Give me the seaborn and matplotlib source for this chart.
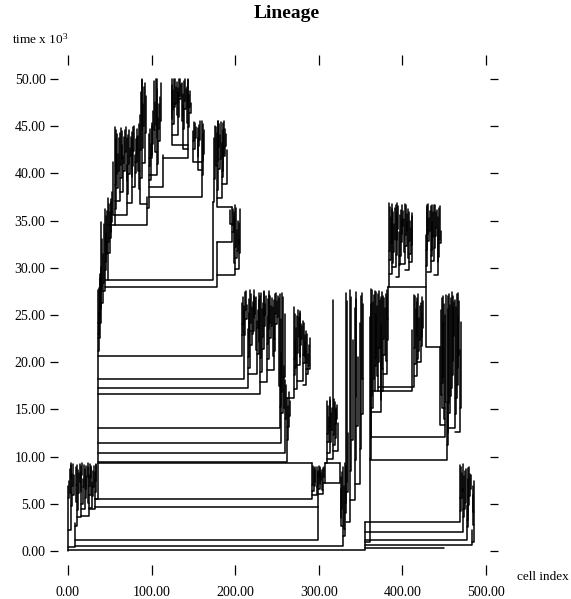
import matplotlib
matplotlib.use("Agg")
import matplotlib.pyplot as plt
import pandas as pd
import seaborn as sns

# Branch records: (cell index, parent cell index, birth time, end time); time in 10^3 units.
# The horizontal stroke at the birth time joins the parent column to the cell column.
founders = [
    (0, 0, 0.0, 6.9), (8, 0, 0.4, 3.0), (355, 0, 0.1, 3.1), (329, 8, 0.5, 8.9),
    (299, 8, 1.2, 4.7), (3, 0, 2.2, 9.1), (11, 8, 2.7, 7.0), (16, 11, 3.6, 9.0),
    (25, 16, 3.7, 8.1), (32.5, 25, 4.4, 8.4), (299, 32.5, 4.7, 8.4),
    (292, 32.5, 5.5, 9.3), (35.5, 32.5, 5.5, 27.6),
]
base_fuzz = [
    (1.5, 0, 5.6, 7.4), (2.2, 3, 6.1, 8.7), (4, 3, 7.6, 9.3), (5, 3, 4.8, 8.2),
    (6.5, 5, 6.9, 9.2), (7.5, 5, 5.9, 8.0), (9.5, 11, 5.2, 8.9), (10.5, 9.5, 7.0, 9.1),
    (12, 11, 4.3, 8.6), (13, 11, 6.1, 8.3), (14.5, 16, 7.3, 9.2), (15.5, 16, 6.2, 8.4),
    (17, 16, 8.0, 9.3), (18, 16, 5.0, 7.6), (19, 18, 6.8, 9.1), (20, 16, 4.5, 8.7),
    (21, 20, 5.6, 7.9), (22, 20, 6.6, 9.0), (23.5, 25, 7.8, 9.3), (24.5, 25, 5.1, 8.9),
    (26, 25, 6.9, 9.2), (27, 25, 5.9, 8.8), (28, 27, 7.7, 9.0), (29, 25, 4.6, 7.3),
    (30, 29, 5.8, 8.5), (31, 29, 6.8, 9.0), (33.2, 32.5, 6.3, 9.1), (34, 32.5, 7.4, 9.2),
]
trunk_branches = [
    (208, 35.5, 20.7, 26.3), (210.5, 35.5, 18.2, 25.4), (215, 35.5, 17.3, 23.5),
    (230, 35.5, 16.6, 27.0), (253.6, 35.5, 13.0, 27.2), (255, 35.5, 11.4, 21.0),
    (260, 35.5, 10.4, 18.1), (262, 35.5, 9.4, 16.2), (292, 35.5, 9.3, 9.3),
]
clade_a = [
    (209.5, 210.5, 23.1, 26.9), (211, 208, 24.0, 26.0), (212, 208, 22.9, 27.4),
    (213, 212, 25.5, 27.5), (214, 212, 24.6, 26.1), (216, 215, 20.6, 26.7),
    (217, 216, 22.5, 25.2), (218, 215, 19.4, 27.6), (219, 218, 24.1, 27.2),
    (220, 218, 21.8, 25.9), (221, 220, 23.0, 26.4), (222, 218, 23.3, 27.7),
    (223, 222, 24.7, 27.0), (224, 222, 25.1, 26.8), (225, 226, 21.3, 26.9),
    (226, 215, 18.8, 24.4), (227, 226, 23.6, 25.5), (228, 226, 20.9, 27.3),
    (229, 228, 22.1, 26.6), (231, 230, 20.4, 27.3), (232, 230, 19.0, 25.6),
    (233, 232, 22.7, 26.3), (234, 232, 21.4, 27.5), (235, 234, 24.9, 27.4),
    (236, 234, 23.8, 26.2), (237, 236, 25.0, 27.0), (238, 230, 17.9, 24.9),
    (239, 238, 21.9, 26.7), (240, 238, 20.3, 27.1), (241, 240, 23.5, 27.5),
    (242, 243, 24.2, 27.0), (243, 240, 22.6, 26.0), (244, 243, 23.8, 26.8),
    (245, 246, 20.7, 25.9), (246, 238, 19.2, 23.7), (247, 248, 22.5, 26.6),
    (248, 246, 21.2, 27.2), (249, 248, 25.1, 27.3), (250, 248, 24.0, 26.5),
    (251, 250, 24.8, 27.0), (252, 253.6, 17.5, 26.8), (254.3, 253.6, 15.3, 24.6),
    (256, 255, 16.8, 27.3), (257, 255, 14.6, 26.9), (258.5, 260, 15.2, 19.6),
    (259, 257, 18.4, 25.1), (261, 260, 14.0, 17.6), (263, 262, 11.8, 15.4),
    (264, 262, 13.1, 16.8), (266, 264, 14.3, 15.9),
]
clade_b = [
    (270, 262, 16.2, 25.8), (271, 270, 20.3, 25.1), (272, 270, 18.6, 22.4),
    (273, 272, 19.4, 23.6), (274, 270, 17.2, 24.9), (275, 274, 21.0, 25.5),
    (276, 277, 22.7, 24.8), (277, 274, 19.7, 25.4), (278, 277, 20.5, 25.2),
    (279, 277, 21.8, 24.0), (280, 279, 22.5, 23.8), (281, 274, 18.0, 24.4),
    (282, 281, 20.8, 24.1), (283, 281, 19.9, 22.1), (284, 283, 20.5, 22.9),
    (285, 281, 17.6, 23.3), (286, 285, 19.9, 23.0), (287, 285, 18.8, 20.9),
    (288, 287, 19.6, 21.8), (289, 285, 19.3, 22.6),
]
clade_d = [
    (293, 292, 7.0, 9.0), (294, 292, 6.4, 8.8), (295, 294, 6.9, 8.9),
    (296, 294, 7.3, 8.6), (297.5, 292, 5.9, 8.9), (298.5, 297.5, 6.8, 8.5),
    (300, 299, 7.8, 9.0), (301, 299, 6.6, 8.7), (302, 301, 7.1, 8.9),
    (303, 301, 7.5, 8.3), (304, 305, 6.5, 8.6), (305, 299, 6.0, 8.8),
    (306, 305, 7.8, 8.9), (307, 305, 7.2, 9.3), (325, 307, 7.2, 9.3),
    (325, 307, 9.3, 9.3),
]
clade_c = [
    (310, 307, 9.3, 15.9), (311, 310, 12.4, 15.4), (312, 310, 11.6, 14.2),
    (313, 312, 13.1, 16.0), (314, 310, 10.4, 16.3), (315, 314, 11.5, 14.6),
    (316, 314, 12.8, 15.1), (317, 310, 9.7, 26.6), (318, 317, 12.3, 16.1),
    (319, 317, 11.2, 15.8), (320, 319, 12.0, 15.2), (321, 319, 13.5, 14.9),
    (322, 321, 14.0, 15.5), (323, 317, 10.6, 13.6),
]
clade_m = [
    (326, 327, 3.5, 6.6), (327, 329, 2.6, 7.8), (328, 327, 4.4, 8.4),
    (330, 331, 2.3, 6.9), (331, 329, 1.6, 9.3), (332, 331, 5.1, 9.0),
    (333, 331, 4.0, 27.3), (334, 333, 7.3, 26.5), (335, 333, 6.2, 12.5),
    (337, 333, 3.1, 27.6), (339, 337, 8.5, 26.9), (341, 339, 11.8, 22.3),
    (343, 337, 5.4, 25.7), (344, 345, 16.3, 26.7), (345, 343, 9.6, 27.4),
    (347, 345, 13.2, 20.6), (349, 343, 7.1, 24.1), (351, 349, 10.8, 27.0),
    (352, 353, 18.2, 27.3), (353, 351, 14.5, 26.2),
]
right_root = [
    (361, 355, 1.0, 24.8), (450, 355, 0.3, 0.3), (469, 355, 3.1, 9.1),
    (473, 355, 2.0, 6.7), (477, 355, 1.2, 4.9), (483, 355, 0.6, 2.2),
    (453, 361, 9.6, 15.8), (451, 363, 12.1, 25.0), (412, 371, 17.0, 23.4),
    (414, 371, 17.4, 27.1),
]
clade_h = [
    (470, 469, 4.2, 8.9), (471, 469, 5.6, 8.3), (472, 471, 6.4, 9.2),
    (474, 473, 3.6, 7.9), (475, 473, 4.4, 8.5), (476, 475, 5.1, 8.7),
    (478, 477, 2.5, 7.6), (479, 477, 3.3, 8.8), (480, 479, 4.9, 8.9),
    (481, 479, 5.8, 8.2), (482, 481, 6.6, 8.0), (484.5, 486, 4.1, 6.9),
    (485, 486, 2.8, 5.9), (486, 483, 1.0, 7.4),
]
clade_e = [
    (362, 363, 12.0, 26.2), (363, 361, 9.8, 27.8), (364, 363, 16.4, 27.6),
    (365, 363, 15.2, 26.4), (366, 365, 18.2, 27.1), (367, 363, 17.0, 27.5),
    (368, 367, 20.4, 27.4), (369, 367, 19.6, 25.1), (370, 371, 18.5, 26.0),
    (371, 367, 17.0, 27.2), (372, 371, 20.0, 27.5), (373, 371, 21.5, 26.6),
    (374, 375, 16.0, 26.9), (375, 363, 14.7, 23.9), (376, 377, 19.3, 27.4),
    (377, 375, 16.9, 27.0), (378, 377, 22.5, 26.8), (379, 377, 20.8, 25.7),
    (380, 381, 20.1, 27.2), (381, 377, 18.7, 26.9), (382, 383, 24.6, 27.7),
    (383, 381, 22.4, 28.0),
]
clade_f = [
    (415, 414, 21.5, 27.0), (416, 414, 19.8, 25.6), (417, 416, 22.8, 26.4),
    (418, 414, 18.5, 26.8), (419, 418, 20.3, 27.2), (420, 418, 21.2, 24.7),
    (421, 420, 22.4, 26.0), (422, 418, 20.0, 26.3), (423, 422, 21.7, 26.9),
    (424, 422, 22.7, 25.2), (425, 424, 23.6, 26.5),
]
clade_g = [
    (445, 451, 13.4, 21.6), (446, 447, 16.5, 25.5), (447, 451, 15.2, 26.8),
    (448, 447, 17.8, 27.0), (449, 447, 18.4, 24.3), (450, 451, 14.0, 26.2),
    (452, 451, 15.8, 27.1), (454, 455, 12.5, 25.6), (455, 453, 11.2, 27.0),
    (456, 455, 15.7, 27.2), (457, 455, 14.6, 26.1), (458, 457, 16.4, 26.8),
    (459, 457, 17.3, 27.4), (460, 459, 18.6, 27.0), (461, 459, 20.1, 25.8),
    (462, 459, 22.8, 26.4), (463, 455, 13.0, 26.6), (464, 463, 14.5, 25.9),
    (465, 463, 16.2, 27.2), (466, 465, 17.6, 27.3), (467, 465, 19.4, 24.9),
    (468, 467, 20.8, 26.5), (469, 463, 12.6, 21.3), (470, 469, 15.1, 24.3),
]
clade_t1 = [
    (384, 383, 28.0, 36.9), (385, 384, 31.8, 36.4), (386, 384, 30.8, 35.4),
    (387, 386, 32.6, 36.8), (388, 384, 29.3, 36.2), (389, 388, 30.5, 35.9),
    (390, 388, 31.7, 34.6), (391, 390, 33.0, 36.3), (392, 388, 30.1, 36.6),
    (393, 392, 31.4, 36.9), (394, 392, 32.9, 35.8), (395, 394, 34.1, 36.5),
    (396, 392, 29.0, 33.8), (397, 396, 30.3, 35.6), (398, 396, 31.2, 36.1),
    (399, 398, 32.7, 36.7), (400, 398, 33.6, 35.1), (401, 400, 34.4, 36.0),
    (402, 403, 31.7, 35.2), (403, 396, 30.4, 36.8), (404, 403, 33.5, 36.6),
    (405, 403, 32.3, 34.9), (406, 405, 33.9, 35.7), (407, 408, 31.0, 36.2),
    (408, 403, 29.8, 35.9), (409, 408, 32.8, 35.0), (410, 408, 31.5, 34.2),
    (411, 410, 32.4, 35.8), (412, 408, 30.6, 35.5),
]
clade_t2 = [
    (428, 445, 21.6, 33.5), (428, 383, 28.0, 28.0), (429, 428, 31.9, 36.4),
    (430, 428, 30.2, 36.7), (431, 430, 33.6, 36.8), (432, 430, 32.8, 35.3),
    (433, 432, 33.9, 36.0), (434, 430, 29.6, 36.5), (435, 434, 31.2, 36.6),
    (436, 434, 31.9, 34.8), (437, 436, 33.3, 35.9), (438, 434, 30.7, 36.6),
    (439, 438, 32.1, 36.7), (440, 438, 33.4, 35.9), (441, 440, 34.2, 36.1),
    (442, 438, 29.2, 34.1), (443, 442, 30.6, 35.4), (444, 442, 31.1, 36.3),
    (445, 444, 32.9, 36.5), (446, 442, 32.6, 33.9),
]
upper_trunk = [
    (36.5, 35.5, 23.0, 27.9), (37, 35.5, 21.2, 25.3), (38, 35.5, 22.6, 28.9),
    (38.5, 38, 24.8, 29.3), (39, 38, 25.6, 30.1), (40, 35.5, 24.1, 34.8),
    (41, 40, 27.8, 33.0), (42, 40, 26.3, 31.5), (43, 42, 28.4, 34.6),
    (44, 40, 27.5, 36.2), (45, 44, 30.6, 35.5), (46, 44, 29.8, 33.7),
    (47, 46, 31.5, 36.0), (48, 44, 28.7, 37.4), (49, 48, 32.7, 36.8),
    (50, 48, 31.6, 35.9), (51, 50, 33.8, 37.3), (52, 48, 33.2, 37.0),
    (53, 52, 34.9, 38.0), (54, 56, 35.6, 41.2), (173, 48, 28.7, 37.0),
    (178, 44, 28.0, 32.7), (56, 48, 34.5, 44.9), (94.5, 56, 34.5, 37.5),
]
clade_tl = [
    (57, 56, 38.8, 44.6), (58, 56, 36.2, 43.6), (59, 58, 39.9, 44.2),
    (60, 58, 38.4, 42.1), (61, 60, 40.2, 43.8), (62, 56, 37.1, 44.3),
    (63, 62, 40.9, 44.8), (64, 62, 39.5, 43.0), (65, 64, 41.5, 44.5),
    (66, 62, 38.0, 41.8), (67, 66, 41.1, 43.9), (68, 66, 40.3, 44.6),
    (69, 68, 42.3, 44.9), (70, 56, 35.6, 40.9), (71, 70, 39.2, 43.7),
    (72, 70, 37.8, 44.1), (73, 72, 41.0, 44.6), (74, 72, 39.9, 42.7),
    (75, 74, 41.8, 43.9), (76, 70, 36.9, 43.5), (77, 76, 39.6, 44.4),
    (78, 76, 40.8, 44.9), (79, 78, 42.4, 45.0), (80, 76, 38.6, 42.0),
    (81, 80, 40.0, 43.6), (82, 80, 41.2, 43.9), (83, 82, 42.0, 44.7),
    (84, 86, 40.2, 44.0), (85, 86, 38.3, 45.2), (86, 94.5, 36.8, 46.2),
    (87, 86, 42.5, 48.6), (88, 86, 39.5, 49.9), (89, 88, 44.6, 50.0),
    (90, 88, 42.7, 47.3), (91, 90, 45.0, 49.1), (92, 88, 41.1, 49.6),
    (93, 92, 44.3, 48.2),
]
clade_tr = [
    (97, 94.5, 36.3, 44.2), (160, 97, 37.5, 45.6), (98, 97, 40.8, 44.7),
    (99, 97, 39.3, 43.1), (100, 99, 41.9, 45.3), (101, 97, 41.6, 45.0),
    (102, 101, 43.1, 46.6), (103, 104, 44.6, 49.8), (104, 106, 42.3, 47.6),
    (105, 106, 45.1, 50.0), (106, 97, 39.8, 50.0), (107, 106, 43.8, 48.9),
    (108, 106, 41.0, 45.9), (109, 108, 44.7, 47.3), (110, 108, 43.4, 48.1),
    (111, 110, 45.6, 49.6), (113.6, 97, 38.6, 42.0), (143.5, 113.6, 41.6, 50.0),
    (124, 125, 45.8, 50.0), (125, 143.5, 43.0, 49.4), (126, 125, 46.7, 48.8),
    (127, 125, 45.2, 50.0), (128, 127, 47.0, 50.0), (129, 127, 47.3, 49.1),
    (130, 131, 46.2, 49.7), (131, 125, 44.1, 48.6), (132, 131, 47.5, 49.0),
    (133, 131, 46.0, 50.0), (134, 133, 48.2, 50.0), (135, 133, 47.9, 49.5),
    (136, 137, 45.5, 49.6), (137, 143.5, 42.6, 47.2), (138, 137, 46.1, 48.4),
    (139, 137, 44.7, 49.8), (140, 139, 47.7, 50.0), (141, 139, 46.8, 48.9),
    (142, 143.5, 45.3, 49.2), (144, 143.5, 46.9, 49.9), (145, 143.5, 44.9, 48.3),
    (146, 145, 47.0, 48.7), (147, 145, 46.4, 47.5), (150, 160, 41.2, 44.5),
    (151, 150, 43.4, 45.4), (152, 150, 42.6, 45.3), (153, 152, 43.7, 44.9),
    (155, 160, 40.4, 43.8), (156, 155, 41.7, 44.8), (157, 155, 42.9, 45.1),
    (158, 157, 43.5, 45.6), (161, 160, 41.3, 45.2), (162, 160, 39.8, 44.2),
    (163, 162, 42.1, 44.6),
]
clade_i = [
    (196, 178, 32.7, 36.4), (178, 196, 36.4, 44.3), (175, 173, 37.0, 43.8),
    (176, 175, 39.4, 45.0), (177, 178, 40.8, 44.9), (179, 180, 41.3, 45.5),
    (180, 178, 38.2, 45.6), (181, 180, 42.8, 45.2), (182, 180, 40.5, 44.1),
    (183, 182, 41.5, 45.4), (184, 178, 37.4, 43.2), (185, 184, 40.3, 44.6),
    (186, 184, 39.6, 45.3), (187, 186, 42.1, 45.6), (188, 186, 41.8, 44.7),
    (189, 188, 42.9, 44.2), (190, 184, 38.9, 42.5), (194, 196, 34.6, 36.1),
    (197, 196, 34.5, 36.2), (198, 196, 33.8, 35.9), (199, 200, 30.5, 35.4),
    (200, 178, 29.2, 36.6), (201, 200, 32.2, 36.3), (202, 200, 31.0, 34.0),
    (203, 202, 31.8, 35.0), (204, 200, 29.9, 33.1), (205, 204, 32.5, 34.7),
    (206, 204, 31.6, 36.2),
]

x_ticks = [0, 100, 200, 300, 400, 500]
x_labels = ["0.00", "100.00", "200.00", "300.00", "400.00", "500.00"]
y_ticks = [0, 5, 10, 15, 20, 25, 30, 35, 40, 45, 50]
y_labels = ["0.00", "5.00", "10.00", "15.00", "20.00", "25.00",
            "30.00", "35.00", "40.00", "45.00", "50.00"]

clades = [founders, base_fuzz, trunk_branches, clade_a, clade_b, clade_d, clade_c,
          clade_m, right_root, clade_h, clade_e, clade_f, clade_g, clade_t1,
          clade_t2, upper_trunk, clade_tl, clade_tr, clade_i]

# Each branch becomes an elbow: parent column -> cell column at birth, then up to the end time.
rows = []
branch_id = 0
for clade in clades:
    for cell, parent, t_birth, t_end in clade:
        for order, (cx, ct) in enumerate([(parent, t_birth), (cell, t_birth), (cell, t_end)]):
            rows.append({"branch": branch_id, "order": order, "cell": cx, "time": ct})
        branch_id += 1
segments = pd.DataFrame(rows)

sns.set_theme(style="white")
plt.rcParams["font.family"] = ["Liberation Serif", "DejaVu Serif"]
plt.rcParams["mathtext.fontset"] = "custom"
plt.rcParams["mathtext.rm"] = "Liberation Serif"
plt.rcParams["mathtext.default"] = "regular"

W, H = 571, 599
fig = plt.figure(figsize=(W / 100, H / 100), dpi=100)
fig.patch.set_facecolor("white")
ax_left, ax_right, ax_top, ax_bottom = 58, 490, 65, 565
ax = fig.add_axes([ax_left / W, 1 - ax_bottom / H,
                   (ax_right - ax_left) / W, (ax_bottom - ax_top) / H])
ax.set_facecolor("white")

sns.lineplot(data=segments, x="cell", y="time", units="branch", estimator=None,
             sort=False, color="black", linewidth=1.1, legend=False, ax=ax)

ax.set_xlim(-11.96, 504.8)
ax.set_ylim(-1.48, 51.48)
for side in ax.spines.values():
    side.set_visible(False)

ax.set_xticks(x_ticks)
ax.set_xticklabels(x_labels, fontsize=10)
ax.set_yticks(y_ticks)
ax.set_yticklabels(y_labels, fontsize=10)
ax.tick_params(axis="x", bottom=True, top=True, labelbottom=True, labeltop=False,
               direction="out", length=7, width=0.9, pad=8, colors="black")
ax.tick_params(axis="y", left=True, right=True, labelleft=True, labelright=False,
               direction="out", length=6, width=0.9, pad=3, colors="black")
ax.set_xlabel("")
ax.set_ylabel("")
ax.grid(False)

fig.text(287 / W, 1 - 13 / H, "Lineage", ha="center", va="center",
         fontsize=14, fontweight="bold", color="black")
fig.text(12 / W, 1 - 44 / H, r"time x 10$^3$", ha="left", va="baseline",
         fontsize=9.5, color="black")
fig.text(517 / W, 1 - 577 / H, "cell index", ha="left", va="center",
         fontsize=9.5, color="black")

fig.savefig("out.png", dpi=100, facecolor="white")
